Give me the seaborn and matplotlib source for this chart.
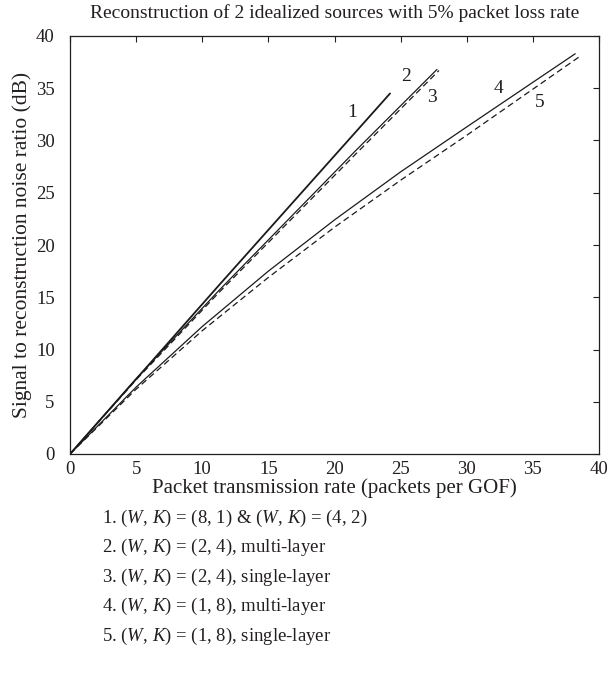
import matplotlib
matplotlib.use("Agg")
import matplotlib.pyplot as plt
import seaborn as sns

# ---- data ----
x1 = [0, 11.3, 24.2]
y1 = [0, 16.2, 34.5]
x2 = [0, 5, 11.3, 21.5, 27.75]
y2 = [0, 7.2, 15.7, 28.9, 36.8]
x3 = [0, 5, 11.3, 21.6, 27.9]
y3 = [0, 7.1, 15.5, 28.7, 36.7]
x4 = [0, 5, 10, 15, 20, 25, 30, 38.2]
y4 = [0, 6.4, 12.2, 17.5, 22.4, 27.0, 31.3, 38.3]
x5 = [0, 5, 10, 15, 20, 25, 30, 38.5]
y5 = [0, 6.2, 11.8, 16.9, 21.7, 26.2, 30.5, 38.0]

curve_labels = ["1", "2", "3", "4", "5"]
label_x = [21.3, 25.4, 27.4, 32.4, 35.5]
label_y = [32.7, 36.1, 34.1, 35.0, 33.6]

x_ticks = [0, 5, 10, 15, 20, 25, 30, 35, 40]
y_ticks = [0, 5, 10, 15, 20, 25, 30, 35, 40]

legend_lines = [
    r"1. $(W,\,K)$ = (8, 1) & $(W,\,K)$ = (4, 2)",
    r"2. $(W,\,K)$ = (2, 4), multi-layer",
    r"3. $(W,\,K)$ = (2, 4), single-layer",
    r"4. $(W,\,K)$ = (1, 8), multi-layer",
    r"5. $(W,\,K)$ = (1, 8), single-layer",
]

title = "Reconstruction of 2 idealized sources with 5% packet loss rate"
xlabel = "Packet transmission rate (packets per GOF)"
ylabel = "Signal to reconstruction noise ratio (dB)"

# ---- style ----
sns.set_style("white")
plt.rcParams["font.family"] = ["Liberation Serif", "DejaVu Serif"]
plt.rcParams["mathtext.fontset"] = "custom"
plt.rcParams["mathtext.rm"] = "Liberation Serif"
plt.rcParams["mathtext.it"] = "Liberation Serif:italic"
TXT = "#231f20"

fig = plt.figure(figsize=(6.10, 6.74), dpi=100)
ax = fig.add_axes([70/610, 1-454/674, (599-70)/610, (454-36)/674])

line_c = "#1a1a1a"
sns.lineplot(x=x1, y=y1, ax=ax, color=line_c, lw=1.3, sort=False, estimator=None)
sns.lineplot(x=x2, y=y2, ax=ax, color=line_c, lw=0.9, sort=False, estimator=None)
sns.lineplot(x=x3, y=y3, ax=ax, color=line_c, lw=0.9, sort=False, estimator=None,
             linestyle=(0, (5, 3)))
sns.lineplot(x=x4, y=y4, ax=ax, color=line_c, lw=0.9, sort=False, estimator=None)
sns.lineplot(x=x5, y=y5, ax=ax, color=line_c, lw=0.9, sort=False, estimator=None,
             linestyle=(0, (5, 3)))

for t, lx, ly in zip(curve_labels, label_x, label_y):
    ax.text(lx, ly, t, fontsize=14, color=TXT, ha="center", va="center")

ax.set_xlim(0, 40)
ax.set_ylim(0, 40)
ax.set_xticks(x_ticks)
ax.set_yticks(y_ticks)
ax.tick_params(direction="in", top=True, right=True, length=4, width=0.8,
               labelsize=13.5, colors=TXT, labelcolor=TXT)
ax.tick_params(axis="x", pad=5)
ax.tick_params(axis="y", pad=11)
for s in ax.spines.values():
    s.set_color("#231f20")
    s.set_linewidth(0.9)

ax.set_title(title, fontsize=14, color=TXT, pad=13)
ax.set_xlabel(xlabel, fontsize=15, color=TXT, labelpad=0)
ax.set_ylabel(ylabel, fontsize=15.5, color=TXT, labelpad=3)

leg_y0 = 518
for i, s in enumerate(legend_lines):
    fig.text(102/610, 1-(leg_y0 + i*29.6)/674, s, fontsize=13.5, color=TXT,
             ha="left", va="center")

fig.savefig("out.png", dpi=100)
